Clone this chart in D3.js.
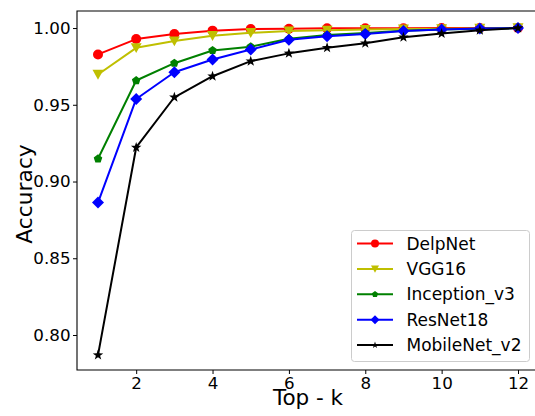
<!DOCTYPE html>
<html>
<head>
<meta charset="utf-8">
<script src="https://cdn.jsdelivr.net/npm/d3@7"></script>
<style>
  html, body { margin: 0; padding: 0; background: #fff; }
  svg { display: block; font-family: "DejaVu Sans", sans-serif; }
</style>
</head>
<body>
<svg id="chart" width="535" height="416"></svg>
<script>
// Top-k accuracy for each network, k = 1..12
const topK = [1, 2, 3, 4, 5, 6, 7, 8, 9, 10, 11, 12];
const delpNet = [0.9828, 0.9928, 0.9961, 0.9983, 0.9993, 0.9995, 0.9998, 0.9999, 0.9999, 1.0, 1.0, 1.0];
const vgg16 = [0.9697, 0.9871, 0.9915, 0.9950, 0.9969, 0.9980, 0.9985, 0.9990, 0.9993, 0.9995, 0.9997, 1.0];
const inceptionV3 = [0.9148, 0.9658, 0.9771, 0.9854, 0.9878, 0.9930, 0.9955, 0.9968, 0.9982, 0.9990, 0.9995, 1.0];
const resNet18 = [0.8863, 0.9538, 0.9712, 0.9795, 0.9860, 0.9924, 0.9946, 0.9961, 0.9980, 0.9990, 0.9997, 1.0];
const mobileNetV2 = [0.7869, 0.9222, 0.9549, 0.9686, 0.9784, 0.9835, 0.9871, 0.9901, 0.9940, 0.9964, 0.9986, 1.0];

const seriesNames = ["DelpNet", "VGG16", "Inception_v3", "ResNet18", "MobileNet_v2"];
const seriesValues = [delpNet, vgg16, inceptionV3, resNet18, mobileNetV2];
const seriesColors = ["#ff0000", "#bfbf00", "#008000", "#0000ff", "#000000"];
const seriesMarkers = ["circle", "triangleDown", "pentagon", "diamond", "star"];

const xTicks = [2, 4, 6, 8, 10, 12];
const yTicks = [0.80, 0.85, 0.90, 0.95, 1.00];

const svg = d3.select("#chart");
const plot = { left: 77, top: 11, right: 539, bottom: 370 };

const x = d3.scaleLinear().domain([0.45, 12.55]).range([plot.left, plot.right]);
const y = d3.scaleLinear().domain([0.7772, 1.0111]).range([plot.bottom, plot.top]);

// marker shapes, centred at the origin
function markerPath(kind, s) {
  const p = d3.path();
  if (kind === "circle") {
    p.arc(0, 0, s / 2, 0, 2 * Math.PI);
  } else if (kind === "triangleDown") {
    const r = s / 2;
    p.moveTo(-r, -r * 0.85); p.lineTo(r, -r * 0.85); p.lineTo(0, r * 0.95); p.closePath();
  } else if (kind === "pentagon") {
    const r = s / 2;
    for (let i = 0; i < 5; i++) {
      const a = -Math.PI / 2 + i * 2 * Math.PI / 5;
      i ? p.lineTo(r * Math.cos(a), r * Math.sin(a)) : p.moveTo(r * Math.cos(a), r * Math.sin(a));
    }
    p.closePath();
  } else if (kind === "diamond") {
    const r = s / 2;
    p.moveTo(0, -r); p.lineTo(r, 0); p.lineTo(0, r); p.lineTo(-r, 0); p.closePath();
  } else if (kind === "star") {
    const R = s / 2, r0 = R * 0.4;
    for (let i = 0; i < 10; i++) {
      const a = -Math.PI / 2 + i * Math.PI / 5;
      const rr = i % 2 ? r0 : R;
      i ? p.lineTo(rr * Math.cos(a), rr * Math.sin(a)) : p.moveTo(rr * Math.cos(a), rr * Math.sin(a));
    }
    p.closePath();
  }
  return p.toString();
}
const plotMarkerSize = { circle: 10, triangleDown: 11, pentagon: 9, diamond: 12, star: 11 };
const legendMarkerSize = { circle: 8, triangleDown: 8, pentagon: 6.5, diamond: 9, star: 7 };

// clip region for the data area
svg.append("defs").append("clipPath").attr("id", "plotClip")
  .append("rect")
  .attr("x", plot.left - 10).attr("y", plot.top - 10)
  .attr("width", plot.right - plot.left + 20).attr("height", plot.bottom - plot.top + 20);

// series lines and markers
const line = d3.line().x((d, i) => x(topK[i])).y(d => y(d));
const dataG = svg.append("g").attr("clip-path", "url(#plotClip)");
seriesValues.forEach((vals, si) => {
  const g = dataG.append("g");
  g.append("path")
    .attr("d", line(vals))
    .attr("fill", "none")
    .attr("stroke", seriesColors[si])
    .attr("stroke-width", 2)
    .attr("stroke-linejoin", "round");
  g.selectAll("path.m").data(vals).join("path")
    .attr("class", "m")
    .attr("transform", (d, i) => `translate(${x(topK[i])},${y(d)})`)
    .attr("d", markerPath(seriesMarkers[si], plotMarkerSize[seriesMarkers[si]]))
    .attr("fill", seriesColors[si]);
});

// axes
const xAxis = d3.axisBottom(x).tickValues(xTicks).tickFormat(d3.format("d")).tickSize(4).tickPadding(3.5);
const yAxis = d3.axisLeft(y).tickValues(yTicks).tickFormat(d3.format(".2f")).tickSize(4).tickPadding(2.5);

const gx = svg.append("g").attr("transform", `translate(0,${plot.bottom})`).call(xAxis);
const gy = svg.append("g").attr("transform", `translate(${plot.left},0)`).call(yAxis);
[gx, gy].forEach(g => {
  g.select(".domain").remove();
  g.selectAll(".tick line").attr("stroke", "#000").attr("stroke-width", 1);
  g.selectAll(".tick text").attr("fill", "#000").style("font-size", "16.7px")
    .style("font-family", "'DejaVu Sans', sans-serif");
});

// spines: left, top, bottom (right edge lies outside the canvas)
svg.append("path")
  .attr("d", `M${plot.right},${plot.top}H${plot.left}V${plot.bottom}H${plot.right}`)
  .attr("fill", "none").attr("stroke", "#000").attr("stroke-width", 1.1);

// axis titles
svg.append("text")
  .attr("x", 308).attr("y", 405)
  .attr("text-anchor", "middle").style("font-size", "21.5px").attr("fill", "#000")
  .text("Top - k");
svg.append("text")
  .attr("transform", `translate(32,194) rotate(-90)`)
  .attr("text-anchor", "middle").style("font-size", "21.8px").attr("fill", "#000")
  .text("Accuracy");

// legend
const legend = svg.append("g");
legend.append("rect")
  .attr("x", 351.5).attr("y", 230.5).attr("width", 178).attr("height", 131)
  .attr("rx", 3).attr("fill", "#fff").attr("fill-opacity", 0.8)
  .attr("stroke", "#cccccc").attr("stroke-width", 1);
seriesNames.forEach((name, si) => {
  const cy = 243.5 + si * 25.4;
  legend.append("line")
    .attr("x1", 357).attr("x2", 393).attr("y1", cy).attr("y2", cy)
    .attr("stroke", seriesColors[si]).attr("stroke-width", 2);
  legend.append("path")
    .attr("transform", `translate(375,${cy})`)
    .attr("d", markerPath(seriesMarkers[si], legendMarkerSize[seriesMarkers[si]]))
    .attr("fill", seriesColors[si]);
  legend.append("text")
    .attr("x", 406.5).attr("y", cy).attr("dy", "0.36em")
    .style("font-size", "17px").attr("fill", "#000")
    .text(name);
});
</script>
</body>
</html>
